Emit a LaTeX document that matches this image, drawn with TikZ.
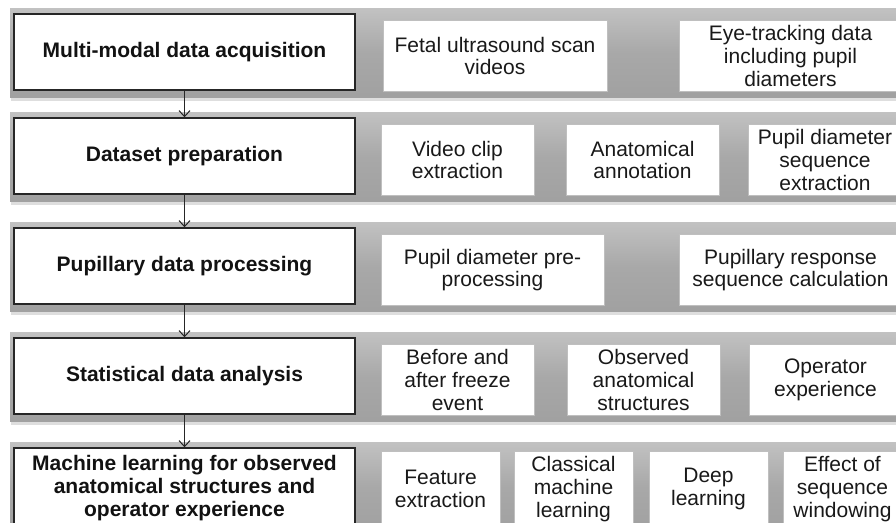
\documentclass[tikz,border=0pt]{standalone}
\usepackage{fontspec}
\setmainfont{Liberation Sans}
\usetikzlibrary{arrows.meta}
\begin{document}
\begin{tikzpicture}[x=1pt,y=-1pt,
  band/.style={top color=black!24, bottom color=black!37, middle color=black!34, draw=none},
  bandshadow/.style={fill=black!13, draw=none},
  mainbox/.style={draw=black!85, line width=1.4pt, fill=white, minimum width=341pt, minimum height=76pt, inner sep=1pt, align=center, font=\fontsize{21}{22.8}\selectfont\bfseries, text=black!93},
  subbox/.style={draw=black!25, line width=0.6pt, fill=white, minimum height=71pt, inner sep=1pt, align=center, font=\fontsize{21}{22.8}\selectfont, text=black!90},
  flow/.style={-{Straight Barb[length=6pt,width=11pt]}, line width=1pt, draw=black!85}]
\useasboundingbox (0,0) rectangle (896,522);
\clip (0,0) rectangle (896,522);
% bands
\foreach \t in {14,118,228,338,448}{
  \fill[bandshadow] (11,\t-4) rectangle (910,\t+87);
  \fill[band] (10,\t-6) rectangle (910,\t+83);
}
% row 1
\node[mainbox] (m1) at (184.5,52) {Multi-modal data acquisition};
\node[subbox, minimum width=224pt] (s11) at (495,56) {Fetal ultrasound scan\\videos};
\node[subbox, minimum width=223pt] (s12) at (790.5,56) {Eye-tracking data\\including pupil\\diameters};
% row 2
\node[mainbox] (m2) at (184.5,156) {Dataset preparation};
\node[subbox, minimum width=153pt] (s21) at (457.5,160) {Video clip\\extraction};
\node[subbox, minimum width=153pt] (s22) at (642.5,160) {Anatomical\\annotation};
\node[subbox, minimum width=154pt] (s23) at (825,160) {Pupil diameter\\sequence\\extraction};
% row 3
\node[mainbox] (m3) at (184.5,266) {Pupillary data processing};
\node[subbox, minimum width=223pt] (s31) at (492.5,270) {Pupil diameter pre-\\processing};
\node[subbox, minimum width=223pt] (s32) at (790.5,270) {Pupillary response\\sequence calculation};
% row 4
\node[mainbox] (m4) at (184.5,376) {Statistical data analysis};
\node[subbox, minimum width=153pt] (s41) at (457.5,380) {Before and\\after freeze\\event};
\node[subbox, minimum width=153pt] (s42) at (643.5,380) {Observed\\anatomical\\structures};
\node[subbox, minimum width=153pt] (s43) at (825.5,380) {Operator\\experience};
% row 5
\node[mainbox, minimum height=80pt] (m5) at (184.5,488) {Machine learning for observed\\anatomical structures and\\operator experience};
\node[subbox, minimum width=119pt, minimum height=76pt] (s51) at (440.5,489) {Feature\\extraction};
\node[subbox, minimum width=119pt, minimum height=76pt] (s52) at (573.5,489) {Classical\\machine\\learning};
\node[subbox, minimum width=119pt, minimum height=76pt] (s53) at (708.5,489) {Deep\\learning};
\node[subbox, minimum width=119pt, minimum height=76pt] (s54) at (842.5,489) {Effect of\\sequence\\windowing};
% arrows
\draw[flow] (m1.south) -- (m2.north);
\draw[flow] (m2.south) -- (m3.north);
\draw[flow] (m3.south) -- (m4.north);
\draw[flow] (m4.south) -- (m5.north);
\end{tikzpicture}
\end{document}
